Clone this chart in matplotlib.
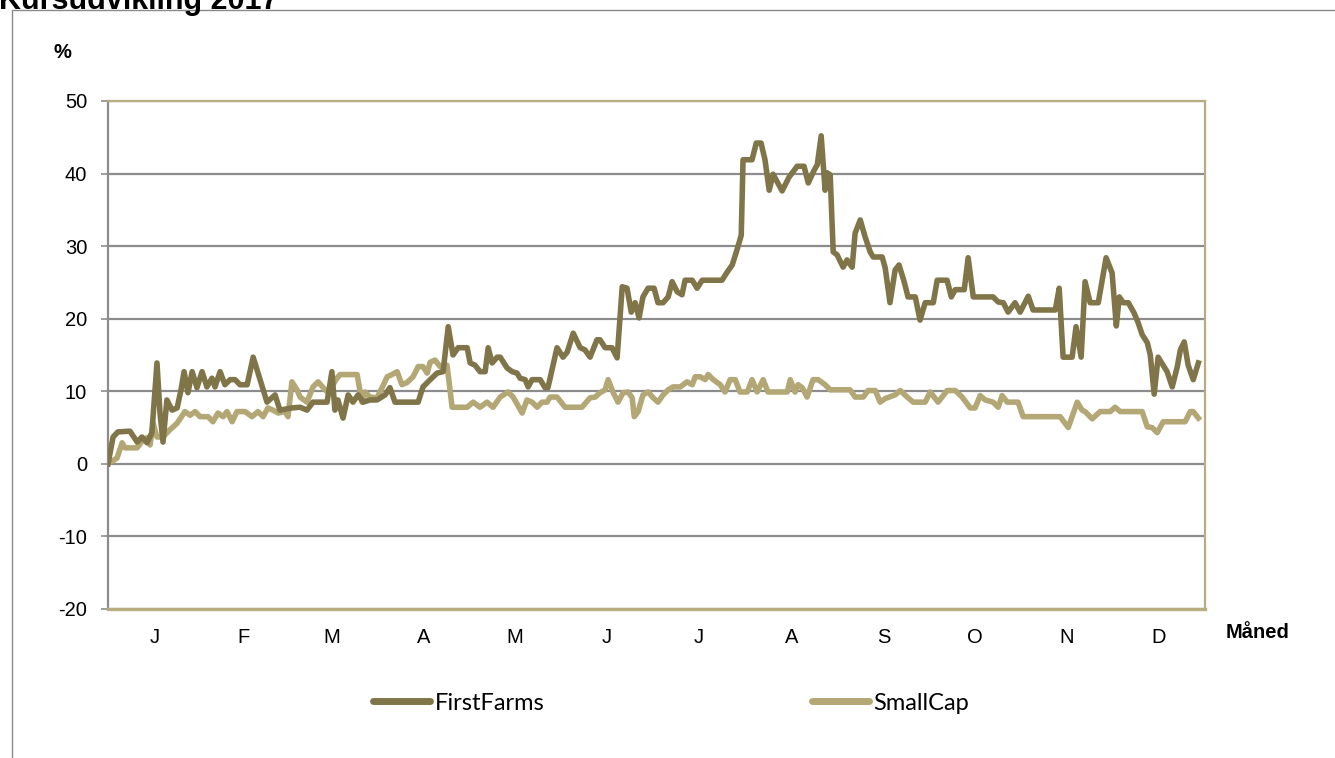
import numpy as np
import matplotlib
matplotlib.use('Agg')
import matplotlib.pyplot as plt
from matplotlib.patches import Rectangle
from matplotlib.lines import Line2D

plt.rcParams['axes.unicode_minus'] = False

# day of year / percent change
ff_day = [0, 1.7, 3.3, 7.3, 9.7, 11.3, 13.0, 14.6, 16.3, 17.3, 18.3, 19.6, 21.3, 23.0, 24.3, 25.3,
          26.6, 28.0, 29.6, 31.3, 32.9, 34.6, 35.6, 37.3, 38.9, 40.6, 42.3, 43.9, 46.3, 48.3, 50.6,
          52.9, 55.6, 57.2, 61.2, 63.9, 66.2, 68.2, 72.9, 74.5, 75.5, 76.5, 78.2, 79.9, 81.5, 83.2,
          84.9, 87.2, 89.5, 92.2, 93.8, 95.5, 103.2, 104.8, 107.2, 109.5, 111.5, 113.2, 114.8, 116.5,
          119.5, 120.5, 122.1, 123.8, 125.5, 126.5, 127.8, 129.5, 130.5, 132.8, 134.5, 136.1, 137.1,
          138.8, 139.8, 141.1, 143.8, 145.4, 146.4, 149.4, 151.4, 152.8, 154.8, 157.1, 158.7, 160.4,
          162.7, 163.7, 165.4, 167.7, 169.4, 171.1, 172.7, 174.1, 175.4, 176.7, 178.0, 179.7, 181.7,
          183.0, 184.7, 186.4, 187.7, 189.4, 191.0, 192.0, 194.4, 196.0, 197.7, 204.3, 206.0, 207.7,
          209.3, 210.7, 211.3, 214.3, 215.7, 217.3, 218.6, 220.0, 221.3, 224.3, 226.6, 229.3, 231.6,
          233.0, 235.0, 236.0, 237.3, 238.6, 239.3, 240.3, 241.3, 242.6, 244.6, 245.9, 247.6, 248.6,
          250.3, 251.9, 253.6, 254.6, 257.6, 258.6, 260.2, 261.9, 263.2, 264.9, 266.2, 268.6, 270.2,
          271.9, 274.6, 275.9, 279.2, 280.6, 281.9, 284.9, 286.2, 287.9, 294.5, 296.2, 297.9, 299.5,
          301.8, 303.5, 306.2, 307.8, 315.2, 316.5, 317.8, 320.8, 322.1, 323.8, 325.1, 326.8, 329.5,
          332.1, 334.1, 335.5, 336.5, 337.8, 339.5, 341.4, 342.8, 344.1, 345.8, 346.8, 348.1, 349.4,
          352.4, 354.1, 355.8, 356.8, 358.1, 359.4, 361.1, 362.8]
ff_val = [0, 3.7, 4.4, 4.5, 3.0, 3.7, 2.9, 4.3, 13.9, 7.0, 3.0, 8.8, 7.4, 7.7, 10.2, 12.7,
          9.8, 12.7, 10.5, 12.7, 10.6, 11.8, 10.6, 12.7, 10.9, 11.6, 11.6, 10.9, 10.9, 14.7, 11.6,
          8.5, 9.5, 7.4, 7.7, 7.8, 7.4, 8.5, 8.5, 12.7, 7.4, 8.8, 6.3, 9.5, 8.5, 9.5,
          8.5, 8.8, 8.8, 9.5, 10.5, 8.5, 8.5, 10.6, 11.6, 12.5, 12.7, 18.9, 15.0, 16.0,
          16.0, 13.9, 13.6, 12.7, 12.7, 16.0, 13.9, 14.7, 14.7, 13.2, 12.7, 12.5, 11.8,
          11.6, 10.6, 11.6, 11.6, 10.5, 10.5, 16.0, 14.7, 15.4, 18.0, 16.0, 15.7, 14.7,
          17.1, 17.1, 16.0, 16.0, 14.6, 24.4, 24.2, 20.9, 22.2, 20.1, 23.0, 24.2, 24.2,
          22.2, 22.2, 23.0, 25.1, 23.7, 23.3, 25.3, 25.3, 24.2, 25.3, 25.3, 26.4, 27.4,
          29.5, 31.5, 41.9, 41.9, 44.2, 44.2, 41.9, 37.7, 39.9, 37.6, 39.5, 41.0, 41.0,
          38.7, 40.5, 41.2, 45.2, 37.7, 40.1, 39.8, 29.2, 28.8, 27.1, 28.1, 27.1, 31.8,
          33.6, 31.3, 29.2, 28.5, 28.5, 27.0, 22.2, 26.7, 27.4, 25.1, 23.0, 23.0, 19.8,
          22.2, 22.2, 25.3, 25.3, 23.0, 24.0, 24.0, 28.4, 23.0, 23.0, 22.3, 22.2, 20.9,
          22.2, 20.9, 23.1, 21.2, 21.2, 24.2, 14.7, 14.7, 18.9, 14.7, 25.1, 22.2, 22.2,
          28.4, 26.3, 19.0, 23.0, 22.2, 22.2, 20.8, 19.4, 17.8, 16.7, 15.0, 9.6, 14.7,
          12.7, 10.6, 13.4, 15.7, 16.8, 13.6, 11.6, 13.9]

sc_day = [0, 3.0, 4.7, 5.7, 9.7, 11.6, 13.0, 14.0, 15.0, 16.3, 18.3, 20.6, 23.0, 25.6, 27.3,
          29.0, 30.6, 33.3, 34.9, 36.6, 38.3, 39.6, 41.3, 42.9, 45.6, 47.9, 49.9, 51.6, 53.2, 54.9,
          56.6, 58.9, 59.9, 61.2, 62.9, 63.9, 66.2, 68.2, 69.9, 71.6, 73.2, 76.2, 77.2, 82.9, 84.5,
          85.5, 87.2, 89.5, 91.2, 92.9, 94.5, 96.2, 97.8, 99.5, 101.5, 103.2, 104.8, 106.2, 107.2,
          108.8, 110.5, 112.8, 114.5, 119.5, 121.5, 123.8, 126.1, 128.1, 130.5, 133.1, 134.8, 137.8,
          139.4, 141.1, 142.8, 144.4, 146.1, 147.1, 149.4, 152.1, 157.7, 160.4, 162.1, 163.7, 165.4,
          166.4, 168.1, 169.7, 171.4, 173.1, 174.4, 175.1, 176.4, 178.0, 179.7, 181.4, 183.0, 184.7,
          186.4, 188.0, 190.4, 192.7, 194.4, 195.4, 197.0, 198.7, 199.7, 201.4, 203.7, 205.3, 207.0,
          208.7, 210.3, 212.7, 214.3, 216.0, 218.0, 219.6, 226.0, 227.0, 228.6, 229.6, 231.0, 232.6,
          234.6, 236.3, 238.6, 240.3, 246.9, 248.6, 251.3, 252.9, 255.3, 256.9, 258.6, 261.9, 263.6,
          266.2, 267.9, 271.9, 273.6, 276.2, 279.2, 281.9, 284.2, 286.9, 288.5, 290.2, 291.9, 294.5,
          296.2, 297.5, 299.2, 302.8, 304.5, 316.8, 319.5, 322.5, 324.1, 325.1, 327.5, 330.1, 333.5,
          335.1, 336.8, 344.1, 345.8, 347.4, 349.1, 351.1, 358.4, 360.1, 361.1, 362.8]
sc_val = [0, 0.8, 2.9, 2.2, 2.2, 3.3, 3.6, 2.6, 5.6, 3.7, 3.7, 4.7, 5.6, 7.2, 6.7,
          7.2, 6.5, 6.5, 5.8, 7.0, 6.5, 7.2, 5.8, 7.2, 7.2, 6.5, 7.2, 6.5, 7.7, 7.4,
          7.0, 7.2, 6.5, 11.3, 10.2, 9.2, 8.5, 10.6, 11.3, 10.5, 9.8, 11.8, 12.3, 12.3, 8.5,
          9.9, 9.2, 9.1, 10.5, 12.0, 12.3, 12.7, 10.9, 11.2, 12.0, 13.4, 13.4, 12.5, 14.0,
          14.3, 13.4, 13.6, 7.8, 7.8, 8.5, 7.8, 8.5, 7.8, 9.2, 9.9, 9.2, 7.0,
          8.8, 8.5, 7.8, 8.5, 8.5, 9.2, 9.2, 7.8, 7.8, 9.1, 9.2, 9.8, 10.2,
          11.6, 9.8, 8.5, 9.8, 9.9, 9.1, 6.5, 7.2, 9.5, 9.9, 9.1, 8.5, 9.5,
          10.2, 10.6, 10.6, 11.3, 10.9, 12.0, 12.0, 11.6, 12.3, 11.6, 10.9, 9.9, 11.6,
          11.6, 9.9, 9.9, 11.6, 9.9, 11.6, 9.9, 9.9, 11.6, 9.9, 10.9, 10.5, 9.2,
          11.6, 11.6, 10.9, 10.2, 10.2, 9.2, 9.2, 10.1, 10.1, 8.5, 9.0, 9.5, 10.1,
          9.1, 8.5, 8.5, 9.9, 8.5, 10.1, 10.1, 9.2, 7.7, 7.7, 9.4, 8.8, 8.5,
          7.8, 9.4, 8.5, 8.5, 6.5, 6.5, 5.0, 8.5, 7.4, 7.2, 6.2, 7.2, 7.2,
          7.8, 7.2, 7.2, 5.1, 5.0, 4.3, 5.8, 5.8, 7.2, 7.2, 6.3]

month_start = [0, 31, 59, 90, 120, 151, 181, 212, 243, 273, 304, 334, 365]
month_labels = ['J', 'F', 'M', 'A', 'M', 'J', 'J', 'A', 'S', 'O', 'N', 'D']

dark = '#807548'
light = '#B3A776'
tan = '#B8AD80'
grid_col = '#8C8C8C'

fig = plt.figure(figsize=(13.35, 7.58), dpi=100)
ax = fig.add_axes([0.0809, 0.1966, 0.8217, 0.6702])

# outer chart frame, partly cut off like in the reference
fig.patches.append(Rectangle((0.009, -0.1), 1.1, 0.1 + 0.987, transform=fig.transFigure,
                             fill=False, edgecolor='#8A8A8A', lw=1.0))
fig.text(-0.001, 0.988, 'Kursudvikling 2017', fontsize=22, fontweight='bold',
         family='Liberation Sans', va='baseline', ha='left')

ax.plot(ff_day, ff_val, color=dark, lw=4.0, solid_joinstyle='round', zorder=3)
ax.plot(sc_day, sc_val, color=light, lw=4.0, solid_joinstyle='round', zorder=2)

ax.set_xlim(0, 365)
ax.set_ylim(-20, 50)
ax.set_yticks(np.arange(-20, 51, 10))
ax.yaxis.grid(True, color=grid_col, lw=1.6)
ax.set_axisbelow(True)

centers = [(a + b) / 2 for a, b in zip(month_start[:-1], month_start[1:])]
ax.set_xticks(centers)
ax.set_xticklabels(month_labels)
ax.tick_params(axis='x', length=0, pad=14, labelsize=14.5)
ax.tick_params(axis='y', length=5, width=1.2, color=grid_col, pad=10, labelsize=14.5)
for lab in ax.get_xticklabels() + ax.get_yticklabels():
    lab.set_family('Liberation Sans')

ax.spines['left'].set_color(grid_col)
ax.spines['left'].set_linewidth(1.6)
for s in ['top', 'right']:
    ax.spines[s].set_color(tan)
    ax.spines[s].set_linewidth(1.6)
ax.spines['bottom'].set_color(tan)
ax.spines['bottom'].set_linewidth(2.4)

fig.text(62 / 1335, 1 - 52 / 758, '%', fontsize=14.5, fontweight='bold',
         family='Liberation Sans', ha='center', va='center')
fig.text(1258 / 1335, 1 - 633 / 758, 'Måned', fontsize=14.5, fontweight='bold',
         family='Liberation Sans', ha='center', va='center')

# legend entries spaced like the reference
handles = [Line2D([], [], color=dark, lw=5, solid_capstyle='round'),
           Line2D([], [], color=light, lw=5, solid_capstyle='round')]
for h, lbl, x0 in zip(handles, ['FirstFarms', 'SmallCap'], [373 / 1335, 812 / 1335]):
    fig.legend([h], [lbl], loc='center left', bbox_to_anchor=(x0, 1 - 703 / 758),
               frameon=False, handlelength=2.4, handletextpad=0.2,
               borderpad=0, borderaxespad=0,
               prop={'family': 'Lato', 'size': 17})

fig.savefig('out.png', dpi=100)
